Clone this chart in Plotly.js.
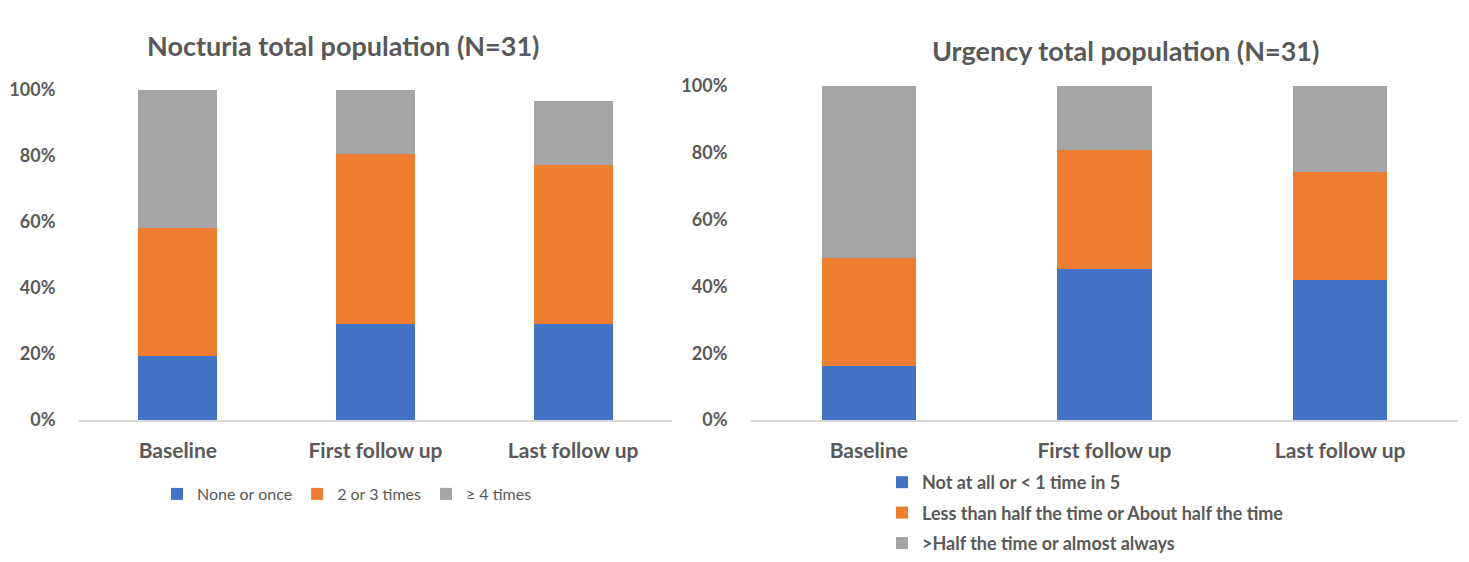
<!DOCTYPE html>
<html>
<head>
<meta charset="utf-8">
<script src="https://cdn.plot.ly/plotly-3.0.1.min.js"></script>
<style>
  html, body { margin: 0; padding: 0; background: #ffffff; }
  #chart { width: 1469px; height: 562px; }
</style>
</head>
<body>
<div id="chart"></div>
<script>
// ---- data (percent of N=31) ----
const categories = ['Baseline', 'First follow up', 'Last follow up'];

const nocturiaNames = ['None or once', '2 or 3 times', '\u2265 4 times'];
const nocturiaNoneOrOnce = [19.4, 29.0, 29.0];
const nocturiaTwoOrThree = [38.7, 51.6, 48.4];
const nocturiaFourPlus = [41.9, 19.4, 19.4];

const urgencyNames = ['Not at all or < 1 time in 5', 'Less than half the time or About half the time', '>Half the time or almost always'];
const urgencyNotAtAll = [16.1, 45.2, 41.9];
const urgencyLessThanHalf = [32.3, 35.5, 32.3];
const urgencyMoreThanHalf = [51.6, 19.4, 25.8];

const yTickVals = [0, 20, 40, 60, 80, 100];
const yTickText = ['0%', '20%', '40%', '60%', '80%', '100%'];

const colors = ['#4472C4', '#ED7D31', '#A5A5A5'];
const textColor = '#595959';
const fontFamily = 'Lato, "Open Sans", sans-serif';

const nocturiaSeries = [nocturiaNoneOrOnce, nocturiaTwoOrThree, nocturiaFourPlus];
const urgencySeries = [urgencyNotAtAll, urgencyLessThanHalf, urgencyMoreThanHalf];

const traces = [];
nocturiaSeries.forEach((vals, i) => {
  traces.push({
    type: 'bar', x: categories, y: vals, name: nocturiaNames[i],
    marker: { color: colors[i], line: { width: 0 } },
    xaxis: 'x', yaxis: 'y', legend: 'legend', hoverinfo: 'x+y+name'
  });
});
urgencySeries.forEach((vals, i) => {
  traces.push({
    type: 'bar', x: categories, y: vals, name: urgencyNames[i],
    marker: { color: colors[i], line: { width: 0 } },
    xaxis: 'x2', yaxis: 'y2', legend: 'legend2', legendgroup: 'u' + i, hoverinfo: 'x+y+name'
  });
});

const W = 1469, H = 562;
const px = v => v / W;
const py = v => (H - v) / H;

const xCommon = {
  showgrid: false, zeroline: false, showline: true, linecolor: '#d9d9d9', linewidth: 1.5,
  ticks: 'outside', ticklen: 11, tickcolor: 'rgba(0,0,0,0)',
  tickfont: { family: fontFamily, size: 21, color: textColor, weight: 'bold' },
  fixedrange: true
};
const yCommon = {
  range: [0, 100], tickmode: 'array', tickvals: yTickVals, ticktext: yTickText,
  showgrid: false, zeroline: false, showline: false,
  ticks: 'outside', ticklen: 19, tickcolor: 'rgba(0,0,0,0)',
  tickfont: { family: fontFamily, size: 18, color: textColor, weight: 'bold' },
  fixedrange: true
};

const layout = {
  width: W, height: H,
  margin: { l: 0, r: 0, t: 0, b: 0 },
  paper_bgcolor: '#ffffff', plot_bgcolor: '#ffffff',
  barmode: 'stack', bargap: 0.6,
  font: { family: fontFamily, color: textColor },
  showlegend: true,
  xaxis: Object.assign({}, xCommon, { domain: [px(79), px(672)], anchor: 'y' }),
  yaxis: Object.assign({}, yCommon, { domain: [py(420), py(90)], anchor: 'x' }),
  xaxis2: Object.assign({}, xCommon, { domain: [px(751), px(1458)], anchor: 'y2' }),
  yaxis2: Object.assign({}, yCommon, { domain: [py(420), py(86)], anchor: 'x2' }),
  legend: {
    orientation: 'h', x: px(347), xanchor: 'center', y: py(494), yanchor: 'middle',
    font: { family: fontFamily, size: 16, color: textColor },
    bgcolor: 'rgba(0,0,0,0)', traceorder: 'normal'
  },
  legend2: {
    orientation: 'v', x: px(882), xanchor: 'left', y: py(464), yanchor: 'top',
    font: { family: fontFamily, size: 18, color: textColor, weight: 'bold' },
    bgcolor: 'rgba(0,0,0,0)', traceorder: 'grouped', tracegroupgap: 4
  },
  annotations: [
    { text: 'Nocturia total population (N=31)', xref: 'paper', yref: 'paper',
      x: px(343), y: py(46), xanchor: 'center', yanchor: 'middle', showarrow: false,
      font: { family: fontFamily, size: 27, color: textColor, weight: 'bold' } },
    { text: 'Urgency total population (N=31)', xref: 'paper', yref: 'paper',
      x: px(1125), y: py(50), xanchor: 'center', yanchor: 'middle', showarrow: false,
      font: { family: fontFamily, size: 27, color: textColor, weight: 'bold' } }
  ]
};

Plotly.newPlot('chart', traces, layout, { displayModeBar: false });
</script>
</body>
</html>
